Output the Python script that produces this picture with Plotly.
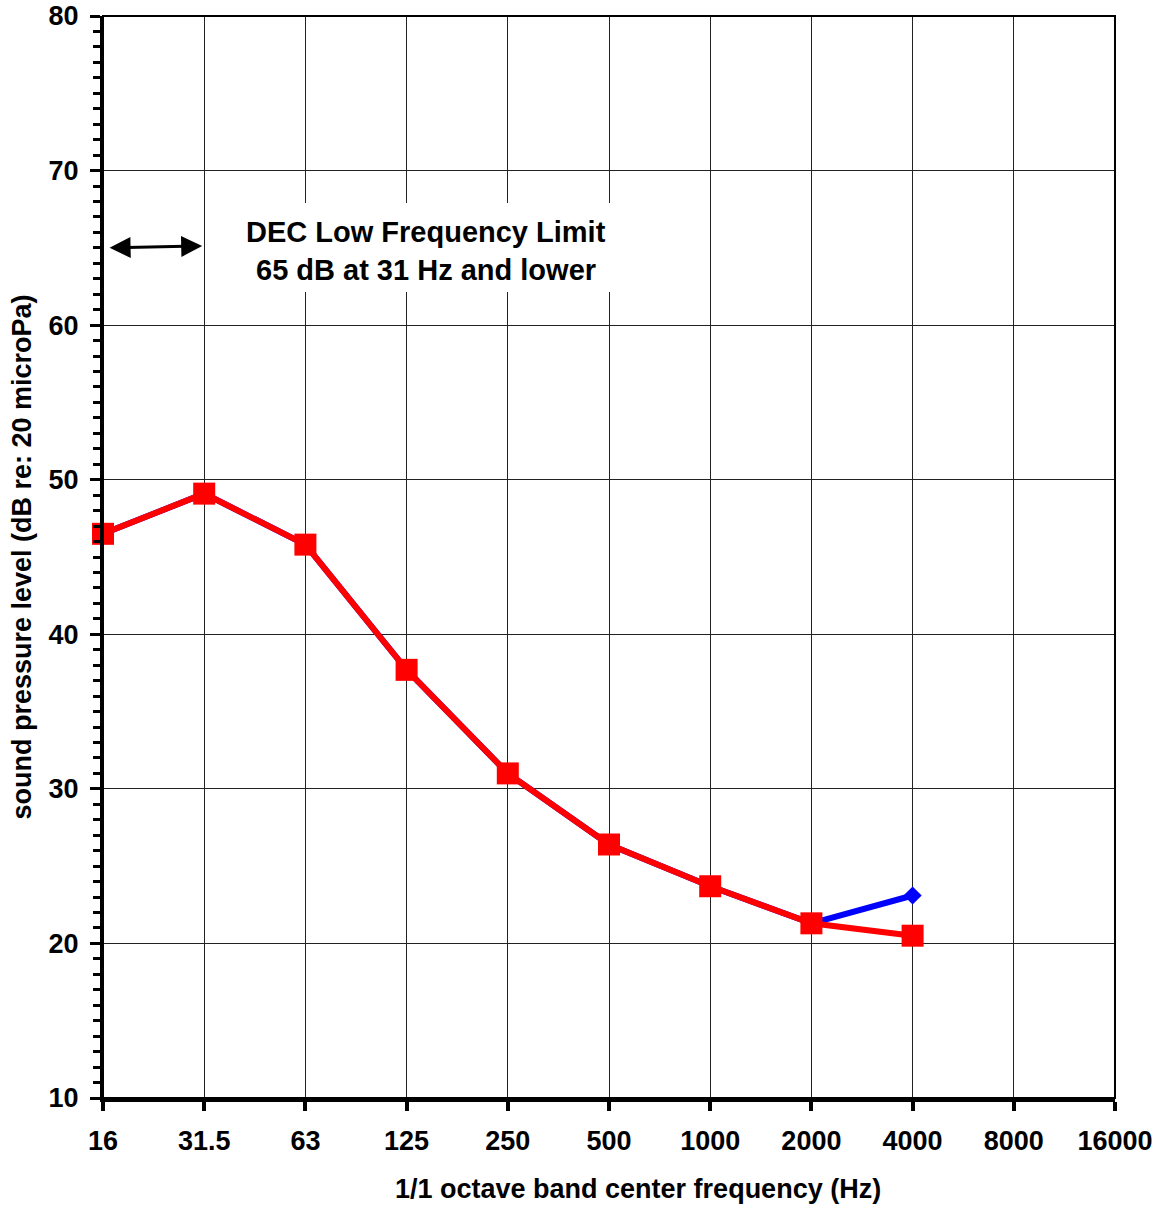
import plotly.graph_objects as go

freq_labels = ["16", "31.5", "63", "125", "250", "500", "1000", "2000", "4000", "8000", "16000"]
bands = ["16", "31.5", "63", "125", "250", "500", "1000", "2000", "4000"]
red_levels = [46.5, 49.1, 45.8, 37.7, 31.0, 26.4, 23.7, 21.3, 20.5]
blue_levels = [46.5, 49.1, 45.8, 37.7, 31.0, 26.4, 23.7, 21.3, 23.1]
y_ticks = [10, 20, 30, 40, 50, 60, 70, 80]
limit_db = 65

FONT = "Liberation Sans, Arial, sans-serif"

fig = go.Figure()
fig.add_trace(go.Scatter(
    x=bands, y=blue_levels, mode="lines+markers",
    line=dict(color="#0000ff", width=6),
    marker=dict(symbol="diamond", size=14, color="#0000ff"),
    showlegend=False, cliponaxis=False,
))
fig.add_trace(go.Scatter(
    x=bands, y=red_levels, mode="lines+markers",
    line=dict(color="#ff0000", width=6),
    marker=dict(symbol="square", size=22, color="#ff0000"),
    showlegend=False, cliponaxis=False,
))

# white box behind the label
fig.add_shape(type="rect", xref="x", yref="y", x0=1.06, x1=5.1, y0=62.15, y1=67.9,
              fillcolor="white", line=dict(width=0), layer="above")
# border of the plot area
fig.add_shape(type="rect", xref="paper", yref="paper", x0=0, x1=1, y0=0, y1=1,
              line=dict(color="black", width=2), layer="above")

fig.add_annotation(x=3.19, y=66.03, xref="x", yref="y", text="<b>DEC Low Frequency Limit</b>",
                   showarrow=False, font=dict(family=FONT, size=29, color="black"))
fig.add_annotation(x=3.19, y=63.57, xref="x", yref="y", text="<b>65 dB at 31 Hz and lower</b>",
                   showarrow=False, font=dict(family=FONT, size=29, color="black"))
# double-headed arrow
fig.add_annotation(x=0.98, y=limit_db + 0.12, ax=0.05, ay=limit_db, xref="x", yref="y",
                   axref="x", ayref="y", text="", showarrow=True, arrowhead=2,
                   startarrowhead=2, arrowside="end+start", arrowsize=1.4,
                   startarrowsize=1.4, arrowwidth=3, arrowcolor="black")
# x-axis title (placed slightly right of centre, as in the original)
fig.add_annotation(x=0.5287, y=-0.0841, xref="paper", yref="paper",
                   text="<b>1/1 octave band center frequency (Hz)</b>", showarrow=False,
                   xanchor="center", yanchor="middle",
                   font=dict(family=FONT, size=27, color="black"))

fig.update_layout(
    width=1164, height=1207,
    margin=dict(l=103, r=49, t=16, b=109),
    plot_bgcolor="white", paper_bgcolor="white",
    font=dict(family=FONT, size=27, color="black"),
)
fig.update_xaxes(
    type="category", categoryorder="array", categoryarray=freq_labels,
    tickvals=freq_labels, ticktext=["<b>%s</b>" % t for t in freq_labels],
    range=[0, 10], showgrid=True, gridcolor="#222222", gridwidth=1,
    showline=True, linecolor="black", linewidth=4,
    ticks="outside", ticklen=9, tickwidth=4, tickcolor="black",
    tickfont=dict(family=FONT, size=27), ticklabelstandoff=7,
    zeroline=False, automargin=False,
)
fig.update_yaxes(
    range=[10, 80], tickvals=y_ticks, ticktext=["<b>%d</b>" % v for v in y_ticks],
    showgrid=True, gridcolor="#222222", gridwidth=1,
    showline=True, linecolor="black", linewidth=3,
    ticks="outside", ticklen=10, tickwidth=3, tickcolor="black",
    minor=dict(dtick=1, ticks="outside", ticklen=7, tickwidth=3, tickcolor="black", showgrid=False),
    tickfont=dict(family=FONT, size=27), ticklabelstandoff=6, zeroline=False, automargin=False,
    title=dict(text="<b>sound pressure level (dB re: 20 microPa)</b>",
               font=dict(family=FONT, size=27), standoff=10),
)

fig.write_html("out.html")
